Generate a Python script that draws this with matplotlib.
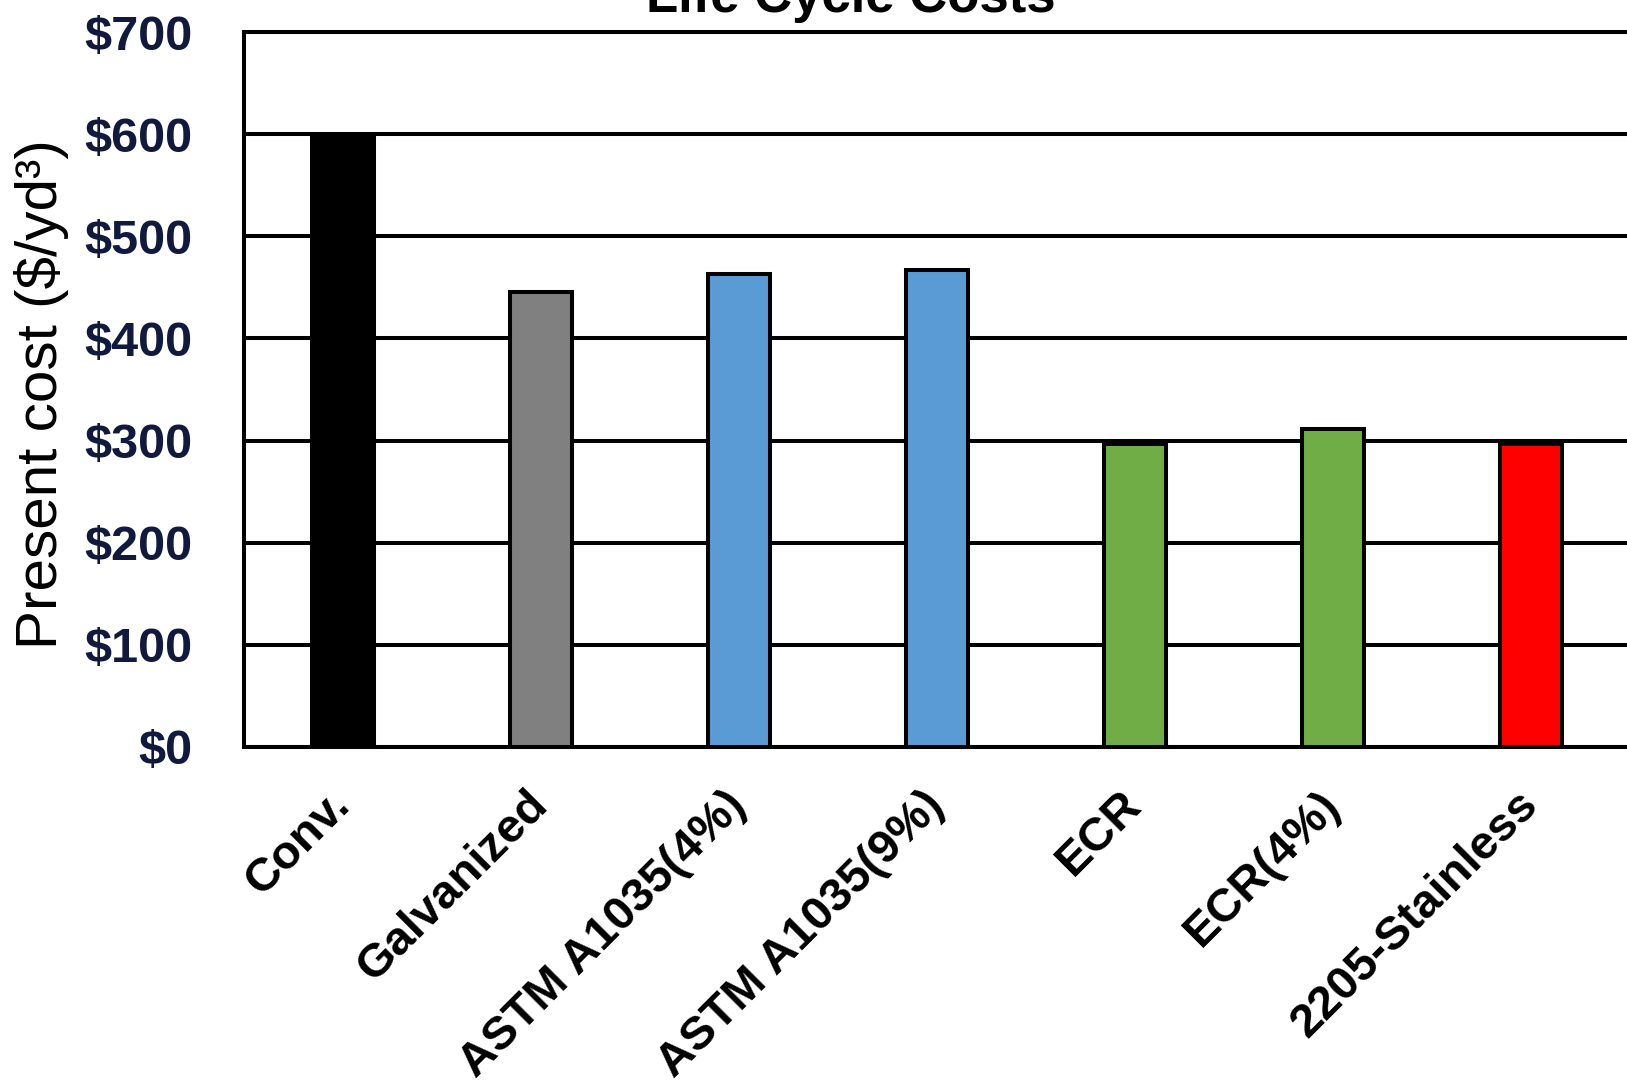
import numpy as np
import matplotlib
matplotlib.use("Agg")
import matplotlib.pyplot as plt

plt.rcParams['font.family'] = ['Liberation Sans', 'DejaVu Sans']

# rebar types and their present cost per cubic yard
rebar = ['Conv.', 'Galvanized', 'ASTM A1035(4%)', 'ASTM A1035(9%)',
         'ECR', 'ECR(4%)', '2205-Stainless']
cost = [600, 445, 463, 467, 297, 311, 297]
colors = ['#000000', '#808080', '#5B9BD5', '#5B9BD5', '#70AD47', '#70AD47', '#FF0000']
yticks = [0, 100, 200, 300, 400, 500, 600, 700]

fig = plt.figure(figsize=(16.27, 10.85), dpi=100)
ax = fig.add_axes([244 / 1627, 1 - 747 / 1085, 1386 / 1627, (747 - 32) / 1085])

x = np.arange(len(rebar))
ax.bar(x, cost, width=0.31, color=colors, edgecolor='black', linewidth=2.9, zorder=3)

ax.set_xlim(-0.5, len(rebar) - 0.5)
ax.set_ylim(0, 700)
ax.set_yticks(yticks)
ax.set_yticklabels(['$' + str(v) for v in yticks], fontsize=35, fontweight='bold', color='#111a3d')
ax.set_xticks(x)
ax.set_xticklabels(rebar, fontsize=34, fontweight='bold', rotation=45,
                   ha='right', va='center', rotation_mode='anchor')
ax.tick_params(axis='y', length=0, pad=37)
ax.tick_params(axis='x', length=0, pad=37)

ax.set_axisbelow(True)
ax.yaxis.grid(True, color='black', linewidth=2.9)
for side in ['left', 'bottom', 'top', 'right']:
    ax.spines[side].set_linewidth(2.9)

fig.text(42 / 1627, 1 - 394 / 1085, 'Present cost ($/yd³)', rotation=90,
         ha='center', va='center', fontsize=42)
fig.text(851 / 1627, 1 - 12 / 1085, 'Life Cycle Costs', ha='center', va='baseline',
         fontsize=38, fontweight='bold')

fig.savefig('out.png', dpi=100)
